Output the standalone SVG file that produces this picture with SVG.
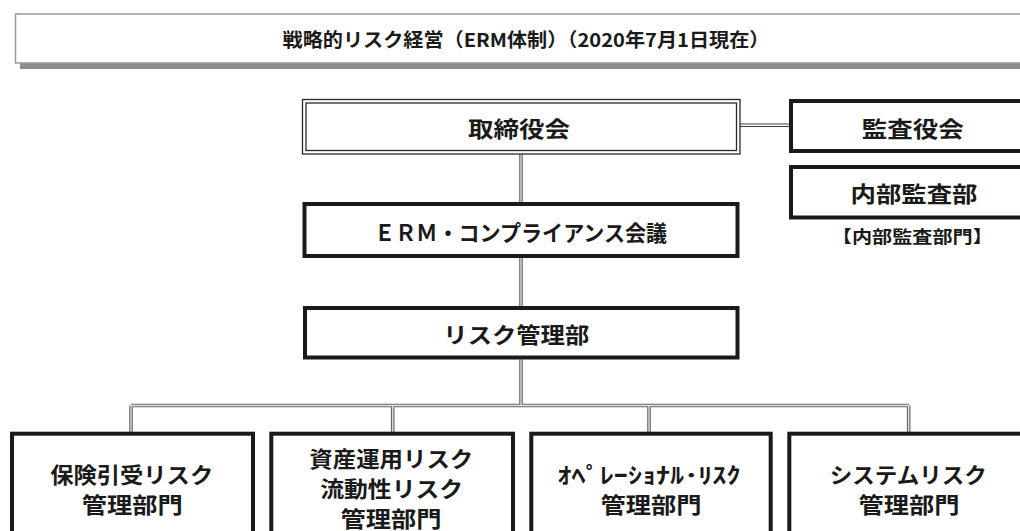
<svg xmlns="http://www.w3.org/2000/svg" xmlns:xlink="http://www.w3.org/1999/xlink" width="1020" height="531" viewBox="0 0 1020 531">
<style>
text{font-family:"Noto Sans CJK JP","Noto Sans",sans-serif;font-weight:bold;fill:#1a1a1a;text-anchor:middle;dominant-baseline:central}
.t22{font-size:22px}
.t17{font-size:17px}
.t19{font-size:19px}
.box{fill:#fff;stroke:#1a1a1a;stroke-width:4}
.thin{fill:none;stroke:#2a2a2a;stroke-width:1.3}
.cOut{fill:none;stroke:#666;stroke-width:3.6}
.cIn{fill:none;stroke:#e2e2e2;stroke-width:1.3}
.hOut{fill:none;stroke:#3a3a3a;stroke-width:3.6}
.hIn{fill:none;stroke:#fff;stroke-width:1.4}
</style>
<defs>
<path id="conn" d="M521 154V202M521 258V306M521 359.5V405.5M131 405.5H909M131 405.5V432M392.7 405.5V432M649 405.5V432M908.7 405.5V432"/>
<path id="connH" d="M740 125.3H789"/>
</defs>
<rect width="1020" height="531" fill="#fff"/>
<g id="title">
<rect x="20" y="19" width="1010" height="50" fill="#8c8c8c"/>
<rect x="15.5" y="14" width="1020" height="49" fill="#fff" stroke="#9a9a9a" stroke-width="1.5"/>
<text class="t19" x="526" y="38.5" textLength="487" lengthAdjust="spacingAndGlyphs">戦略的リスク経営（ERM体制）（2020年7月1日現在）</text>
</g>
<g id="connectors">
<use xlink:href="#conn" class="cOut"/>
<use xlink:href="#conn" class="cIn"/>
<use xlink:href="#connH" class="hOut"/>
<use xlink:href="#connH" class="hIn"/>
</g>
<g id="board">
<rect x="302.5" y="99.5" width="437.5" height="54.5" fill="#fff" class="thin"/>
<rect x="306" y="103" width="430.5" height="47.5" class="thin"/>
<text class="t22" x="519" y="126.5" textLength="102" lengthAdjust="spacingAndGlyphs">取締役会</text>
</g>
<g id="erm">
<rect class="box" x="304.5" y="204" width="433" height="52"/>
<text class="t22" x="520.7" y="231" textLength="293" lengthAdjust="spacingAndGlyphs">ＥＲＭ・コンプライアンス会議</text>
</g>
<g id="riskmgmt">
<rect class="box" x="305" y="308" width="432.5" height="49.5"/>
<text class="t22" x="516.3" y="333.3" textLength="146" lengthAdjust="spacingAndGlyphs">リスク管理部</text>
</g>
<g id="auditboard">
<rect class="box" x="791" y="101" width="260" height="50"/>
<text class="t22" x="912.8" y="126.7" textLength="102" lengthAdjust="spacingAndGlyphs">監査役会</text>
</g>
<g id="internalaudit">
<rect class="box" x="791" y="167" width="260" height="50.5"/>
<text class="t22" x="914" y="192.3" textLength="127" lengthAdjust="spacingAndGlyphs">内部監査部</text>
<text class="t17" x="912.3" y="235.7" textLength="161" lengthAdjust="spacingAndGlyphs">【内部監査部門】</text>
</g>
<g id="underwriting">
<rect class="box" x="12" y="433.7" width="241" height="110"/>
<text class="t22" x="131.7" y="473" textLength="163" lengthAdjust="spacingAndGlyphs">保険引受リスク</text>
<text class="t22" x="132.2" y="503" textLength="101" lengthAdjust="spacingAndGlyphs">管理部門</text>
</g>
<g id="asset">
<rect class="box" x="271.3" y="433.7" width="241.7" height="110"/>
<text class="t22" x="391.3" y="457" textLength="164" lengthAdjust="spacingAndGlyphs">資産運用リスク</text>
<text class="t22" x="391.7" y="487" textLength="143" lengthAdjust="spacingAndGlyphs">流動性リスク</text>
<text class="t22" x="391" y="517" textLength="101" lengthAdjust="spacingAndGlyphs">管理部門</text>
</g>
<g id="operational">
<rect class="box" x="531.3" y="433.7" width="239.4" height="110"/>
<text class="t22" x="649" y="473" textLength="183" lengthAdjust="spacingAndGlyphs">ｵﾍﾟﾚｰｼｮﾅﾙ･ﾘｽｸ</text>
<text class="t22" x="651" y="503" textLength="101" lengthAdjust="spacingAndGlyphs">管理部門</text>
</g>
<g id="system">
<rect class="box" x="789.3" y="433.7" width="260" height="110"/>
<text class="t22" x="908.3" y="473" textLength="157" lengthAdjust="spacingAndGlyphs">システムリスク</text>
<text class="t22" x="909" y="503" textLength="101" lengthAdjust="spacingAndGlyphs">管理部門</text>
</g>
</svg>
